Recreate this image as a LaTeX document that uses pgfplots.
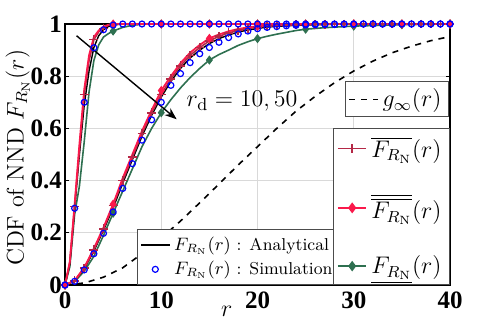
\documentclass[border=0pt]{standalone}
\usepackage{fontspec}
\usepackage{pgfplots}
\pgfplotsset{compat=1.18}
\usetikzlibrary{arrows.meta}
\newfontfamily\tickfont{Liberation Serif}
\definecolor{dred}{RGB}{180,40,70}
\definecolor{bred}{RGB}{250,25,75}
\definecolor{mgreen}{RGB}{46,112,80}
\pgfplotsset{
  base/.style={
    width=192.5pt, height=130.5pt, scale only axis,
    xmin=0, xmax=40, ymin=0, ymax=1,
    legend image code/.code={\draw[mark repeat=2,mark phase=2,##1] plot coordinates {(0cm,0cm) (0.25cm,0cm) (0.5cm,0cm)};},
  }
}
\begin{document}
\begin{tikzpicture}
\begin{axis}[base,
  axis line style={line width=0.8pt},
  xtick={0,10,20,30,40}, xticklabels={0,10,20,30,40},
  ytick={0,0.2,0.4,0.6,0.8,1}, yticklabels={0,0.2,0.4,0.6,0.8,1},
  /pgf/number format/assume math mode=true,
  ticklabel style={font=\tickfont\bfseries\fontsize{12.5}{12.5}\selectfont},
  yticklabel style={xshift=2pt},
  tick align=inside, major tick length=2pt,
  tick style={black, line width=0.6pt},
  grid=major, grid style={black!15, line width=0.5pt},
  xlabel={$r$}, xlabel style={at={(axis description cs:0.42,0)}, anchor=north, yshift=-7pt, font=\fontsize{13}{13}\selectfont},
  ylabel={CDF of NND $F_{R_{\rm N}}(r)$}, ylabel style={at={(axis description cs:0,0.487)}, anchor=south, yshift=14pt, font=\fontsize{12}{12}\selectfont},
  legend style={at={(axis description cs:0.187,0)}, anchor=south west,
    font=\fontsize{8.6}{9}\selectfont, draw=black!70, fill=white, inner sep=1.5pt,
    row sep=0pt},
  legend cell align=left,
]
% g_infinity
\addplot[black, dashed, line width=0.8pt, forget plot] coordinates {
(0,0)(2,0.0076)(4,0.03)(6,0.066)(8,0.12)(10,0.18)(12,0.245)(14,0.315)(16,0.387)(18,0.46)(20,0.53)(22,0.6)(24,0.666)(26,0.723)(28,0.775)(30,0.82)(32,0.858)(34,0.89)(36,0.915)(38,0.936)(40,0.952)};
% green slow
\addplot[mgreen, line width=0.8pt, forget plot] coordinates {
(0,0)(1,0.013)(2,0.053)(3,0.11)(4,0.19)(5,0.275)(6,0.36)(7,0.445)(8,0.53)(9,0.6)(10,0.66)(11,0.71)(12,0.755)(13,0.795)(14,0.83)(15,0.862)(16,0.883)(17,0.9)(18,0.918)(19,0.932)(20,0.944)(21,0.953)(22,0.961)(23,0.968)(24,0.975)(25,0.98)(26,0.983)(27,0.986)(28,0.988)(29,0.99)(30,0.992)(32,0.994)(34,0.996)(36,0.998)(38,0.999)(40,1)};
\addplot[mgreen, only marks, mark=diamond*, mark size=2pt, forget plot] coordinates {
(0,0)(5,0.275)(10,0.66)(15,0.862)(20,0.944)(25,0.98)(30,0.992)(35,0.997)(40,1)};
% green steep
\addplot[mgreen, line width=0.8pt, forget plot] coordinates {
(0,0)(0.5,0.07)(1,0.27)(1.5,0.38)(2,0.55)(2.5,0.74)(3,0.86)(3.5,0.92)(4,0.95)(4.5,0.963)(5,0.973)(6,0.987)(7,0.995)(8,0.999)(9,1)(40,1)};
\addplot[mgreen, only marks, mark=diamond*, mark size=2pt, forget plot] coordinates {
(0,0)(5,0.973)(10,1)(15,1)(20,1)(25,1)(30,1)(35,1)(40,1)};
% black analytical
\addplot[black, line width=0.7pt] coordinates {
(0,0)(0.5,0.08)(1,0.29)(1.5,0.5)(2,0.69)(2.5,0.82)(3,0.91)(3.5,0.955)(4,0.978)(4.5,0.99)(5,0.996)(6,1)(40,1)};
\addlegendentry{$F_{R_{\rm N}}(r)$ : Analytical}
\addplot[black, line width=0.7pt, forget plot] coordinates {
(0,0)(1,0.016)(2,0.062)(3,0.13)(4,0.21)(5,0.295)(6,0.39)(7,0.48)(8,0.57)(9,0.65)(10,0.72)(11,0.78)(12,0.83)(13,0.87)(14,0.9)(15,0.925)(16,0.944)(17,0.958)(18,0.969)(19,0.977)(20,0.983)(21,0.988)(22,0.991)(23,0.993)(24,0.995)(25,0.996)(26,0.997)(27,0.998)(28,0.999)(30,1)(40,1)};
% dark red
\addplot[dred, line width=0.8pt, forget plot] coordinates {
(0,0)(0.5,0.085)(1,0.3)(1.5,0.52)(2,0.73)(2.5,0.86)(3,0.94)(3.5,0.97)(4,0.985)(4.5,0.995)(5,0.999)(6,1)(40,1)};
\addplot[dred, only marks, mark=+, mark size=2.2pt, forget plot] coordinates {
(0,0)(1,0.3)(2,0.73)(3,0.94)(4,0.985)(5,0.999)};
\addplot[dred, line width=0.8pt, mark=+, mark size=2.2pt, forget plot] coordinates {
(0,0)(1,0.016)(2,0.065)(3,0.135)(4,0.215)(5,0.305)(6,0.4)(7,0.49)(8,0.58)(9,0.66)(10,0.73)(11,0.79)(12,0.84)(13,0.88)(14,0.91)(15,0.935)(16,0.953)(17,0.966)(18,0.976)(19,0.983)(20,0.988)(21,0.992)(22,0.994)(23,0.996)(24,0.997)(25,0.998)(26,0.999)(27,0.999)(28,1)(29,1)(30,1)(31,1)(32,1)(33,1)(34,1)(35,1)(36,1)(37,1)(38,1)(39,1)(40,1)};
% bright red
\addplot[bred, line width=0.9pt, forget plot] coordinates {
(0,0)(0.5,0.09)(1,0.31)(1.5,0.54)(2,0.75)(2.5,0.88)(3,0.95)(3.5,0.975)(4,0.99)(4.5,0.997)(5,1)(40,1)};
\addplot[bred, only marks, mark=diamond*, mark size=2pt, forget plot] coordinates {
(0,0)(5,1)(10,1)(15,1)(20,1)(25,1)(30,1)(35,1)(40,1)};
\addplot[bred, line width=0.9pt, forget plot] coordinates {
(0,0)(1,0.017)(2,0.067)(3,0.14)(4,0.22)(5,0.31)(6,0.41)(7,0.5)(8,0.59)(9,0.67)(10,0.745)(11,0.8)(12,0.85)(13,0.89)(14,0.92)(15,0.945)(16,0.96)(17,0.972)(18,0.981)(19,0.987)(20,0.991)(21,0.994)(22,0.996)(23,0.997)(24,0.998)(25,0.999)(26,1)(40,1)};
\addplot[bred, only marks, mark=diamond*, mark size=2pt, forget plot] coordinates {
(0,0)(5,0.31)(10,0.745)(15,0.945)(20,0.991)(25,0.999)(30,1)(35,1)(40,1)};
% blue simulation
\addplot[blue, only marks, mark=o, mark size=1.5pt, line width=0.6pt] coordinates {
(0,0)(1,0.294)(2,0.7)(3,0.909)(4,0.978)(5,0.996)(6,1)(7,1)(8,1)(9,1)(10,1)(11,1)(12,1)(13,1)(14,1)(15,1)(16,1)(17,1)(18,1)(19,1)(20,1)(21,1)(22,1)(23,1)(24,1)(25,1)(26,1)(27,1)(28,1)(29,1)(30,1)(31,1)(32,1)(33,1)(34,1)(35,1)(36,1)(37,1)(38,1)(39,1)(40,1)};
\addlegendentry{$F_{R_{\rm N}}(r)$ : Simulation}
\addplot[blue, only marks, mark=o, mark size=1.5pt, line width=0.6pt, forget plot] coordinates {
(0,0)(1,0.014)(2,0.058)(3,0.12)(4,0.198)(5,0.28)(6,0.37)(7,0.465)(8,0.555)(9,0.633)(10,0.7)(11,0.765)(12,0.81)(13,0.852)(14,0.886)(15,0.91)(16,0.93)(17,0.948)(18,0.962)(19,0.973)(20,0.982)(21,0.987)(22,0.99)(23,0.993)(24,0.995)(25,0.996)(26,0.997)(27,0.998)(28,0.998)(29,0.999)(30,0.999)(31,1)(32,1)(33,1)(34,1)(35,1)(36,1)(37,1)(38,1)(39,1)(40,1)};
\draw[-{Stealth[length=6pt,width=4.5pt]}, line width=0.7pt] (axis cs:1.2,0.955) -- (axis cs:11.6,0.635);
\node[font=\fontsize{12.5}{12.5}\selectfont] at (axis cs:18.4,0.705) {$r_{\rm d} = 10, 50$};
\end{axis}
% g_inf legend
\begin{axis}[base, hide axis,
  legend style={at={(axis description cs:0.997,0.78)}, anchor=north east,
    font=\fontsize{12}{12}\selectfont, draw=black!70, fill=white, inner sep=1.5pt},
]
\addlegendimage{black, dashed, line width=0.8pt}
\addlegendentry{$g_{\infty}(r)$}
\end{axis}
% bounds legend
\begin{axis}[base, hide axis,
  legend style={at={(axis description cs:1,0)}, anchor=south east,
    font=\fontsize{12}{12}\selectfont, draw=black!70, fill=white, inner sep=2pt,
    row sep=13pt},
  legend cell align=left,
]
\addlegendimage{dred, line width=0.8pt, mark=+, mark size=2.2pt}
\addlegendentry{$\overline{F_{R_{\rm N}}}(r)$}
\addlegendimage{bred, line width=0.9pt, mark=diamond*, mark size=2pt}
\addlegendentry{$\overline{\overline{F_{R_{\rm N}}}}(r)$}
\addlegendimage{mgreen, line width=0.8pt, mark=diamond*, mark size=2pt}
\addlegendentry{$\underline{F_{R_{\rm N}}}(r)$}
\end{axis}
\pgfresetboundingbox
\path[use as bounding box] (-32.5pt,-18pt) rectangle (216.5pt,142.5pt);
\end{tikzpicture}
\end{document}
